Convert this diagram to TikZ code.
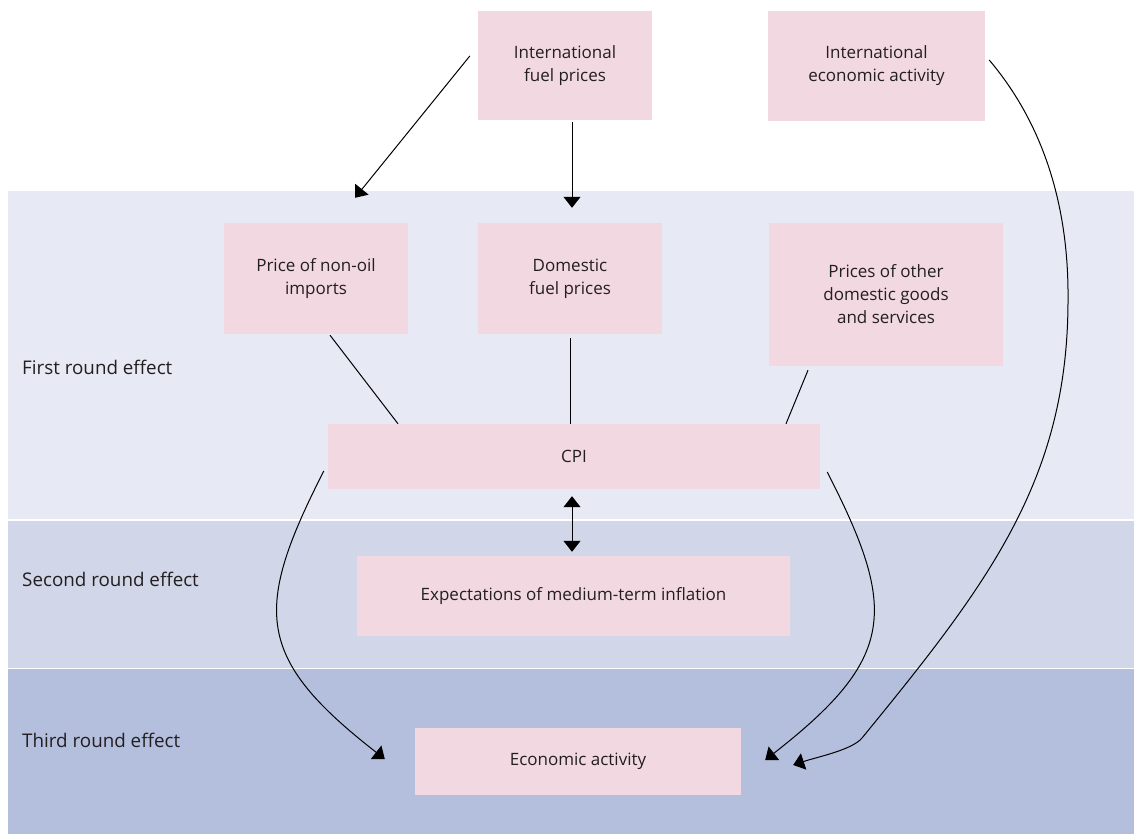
\documentclass[tikz,border=0pt]{standalone}
\usepackage{fontspec}
\setmainfont{Open Sans}
\usepackage{tikz}
\usetikzlibrary{arrows.meta}
\definecolor{boxpink}{HTML}{F2D8E1}
\definecolor{bandone}{HTML}{E7EAF4}
\definecolor{bandtwo}{HTML}{D1D6E9}
\definecolor{bandthree}{HTML}{B4BEDD}
\definecolor{textgrey}{HTML}{231F20}
\tikzset{effect/.style={fill=boxpink, text=textgrey, align=center, inner sep=0pt, font=\fontsize{17}{23}\selectfont}}
\tikzset{roundlabel/.style={anchor=west, text=textgrey, inner sep=0pt, font=\fontsize{18.8}{23}\selectfont}}
\tikzset{tie/.style={line width=1pt}}
\tikzset{link/.style={line width=1pt, -{Triangle[width=17pt,length=11pt]}}}
\tikzset{twoway/.style={line width=1pt, {Triangle[width=17pt,length=11pt]}-{Triangle[width=17pt,length=11pt]}}}

\begin{document}
\begin{tikzpicture}[x=1pt,y=-1pt]
\useasboundingbox (0,0) rectangle (1134,834);
\fill[bandone] (8,191) rectangle (1134,519);
\fill[bandtwo] (8,521) rectangle (1134,668);
\fill[bandthree] (8,669) rectangle (1134,834);

\node[roundlabel] (first) at (22,367) {First round effect};
\node[roundlabel] (second) at (22,579) {Second round effect};
\node[roundlabel] (third) at (22,740) {Third round effect};

\node[effect, minimum width=174pt, minimum height=109pt] (intfuel) at (565,65.5) {International\\fuel prices};
\node[effect, minimum width=217pt, minimum height=110pt] (intecon) at (876.5,66) {International\\economic activity};
\node[effect, minimum width=184pt, minimum height=111pt] (nonoil) at (316,278.5) {Price of non-oil\\imports};
\node[effect, minimum width=184pt, minimum height=111pt] (domfuel) at (570,278.5) {Domestic\\fuel prices};
\node[effect, minimum width=234pt, minimum height=143pt] (other) at (886,294.5) {Prices of other\\domestic goods\\and services};
\node[effect, minimum width=492pt, minimum height=65pt] (cpi) at (574,456.5) {CPI};
\node[effect, minimum width=433pt, minimum height=80pt] (expect) at (573.5,596) {Expectations of medium-term inflation};
\node[effect, minimum width=326pt, minimum height=67pt] (econ) at (578,761.5) {Economic activity};

\draw[link] ([xshift=-8pt,yshift=9.5pt]intfuel.west) -- ([xshift=39pt,yshift=25pt]nonoil.north);
\draw[link] ([xshift=7pt,yshift=-2pt]intfuel.south) -- ([xshift=2pt,yshift=15pt]domfuel.north);
\draw[tie] ([xshift=14pt,yshift=-1pt]nonoil.south) -- ([xshift=-176pt]cpi.north);
\draw[tie] ([yshift=-4pt]domfuel.south) -- ([xshift=-4pt]cpi.north);
\draw[tie] ([xshift=-78pt,yshift=-4pt]other.south) -- ([xshift=212pt]cpi.north);
\draw[twoway] ([xshift=-2pt,yshift=-7pt]cpi.south) -- ([xshift=-1.5pt,yshift=4pt]expect.north);
\draw[link] ([xshift=-4pt,yshift=-14.5pt]cpi.west) .. controls (253,610) and (255,658) .. ([xshift=-30pt,yshift=2.5pt]econ.west);
\draw[link] ([xshift=7pt,yshift=-15.5pt]cpi.east) .. controls (898,610) and (896,658) .. ([xshift=24pt,yshift=1.5pt]econ.east);
\draw[link] ([xshift=4pt,yshift=6pt]intecon.east) .. controls (1040,120) and (1069,200) .. (1068,300)
  .. controls (1068,480) and (988,584) .. (862,738) .. controls (852,750) and (817,757) .. ([xshift=52pt,yshift=-3.5pt]econ.east);
\end{tikzpicture}
\end{document}
